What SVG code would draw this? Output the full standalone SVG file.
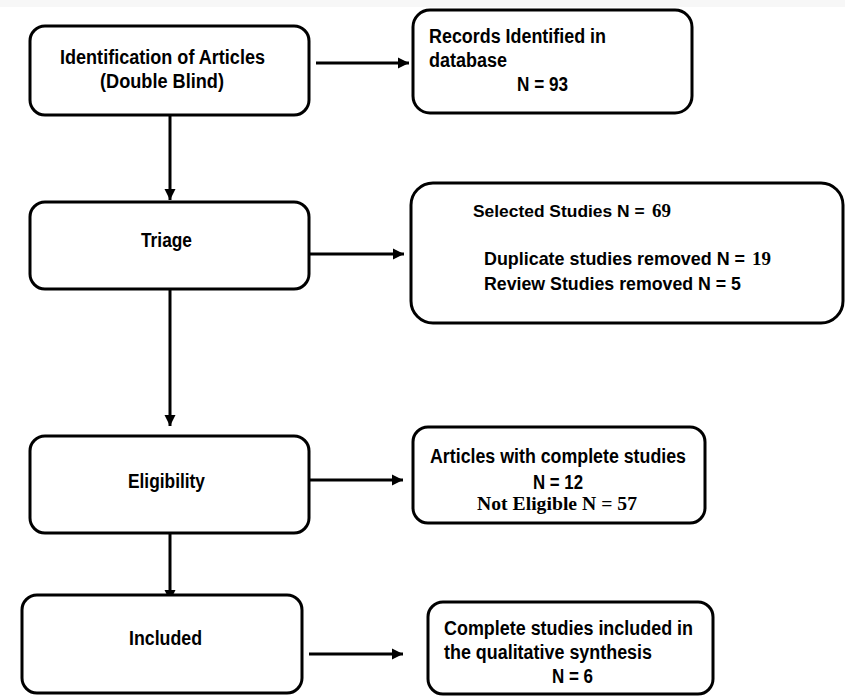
<svg xmlns="http://www.w3.org/2000/svg" width="845" height="696" viewBox="0 0 845 696">
<defs>
<style>
.box{fill:#fff;stroke:#000;stroke-width:3}
.t{font-family:"Liberation Sans",Arial,sans-serif;font-weight:bold;font-size:19.5px;fill:#000}
.s{font-family:"Liberation Serif","Times New Roman",serif;font-weight:bold;font-size:19px;fill:#000}
.c{fill:none;stroke:#000;stroke-width:3}
</style>
<marker id="ah" markerUnits="userSpaceOnUse" markerWidth="13" markerHeight="13" refX="11" refY="6.5" orient="auto">
<path d="M0,1 L11,6.5 L0,12 Z" fill="#000"/>
</marker>
</defs>
<rect x="0" y="0" width="845" height="696" fill="#fff"/>
<rect x="0" y="0" width="845" height="7" fill="#f7f7f7"/>

<g id="connectors">
<line class="c" x1="316" y1="63" x2="409" y2="63" marker-end="url(#ah)"/>
<line class="c" x1="170" y1="115" x2="170" y2="200" marker-end="url(#ah)"/>
<line class="c" x1="309" y1="254" x2="404" y2="254" marker-end="url(#ah)"/>
<line class="c" x1="170" y1="289" x2="170" y2="426" marker-end="url(#ah)"/>
<line class="c" x1="309" y1="480" x2="403" y2="480" marker-end="url(#ah)"/>
<line class="c" x1="170" y1="533" x2="170" y2="601" marker-end="url(#ah)"/>
<line class="c" x1="309" y1="654" x2="403" y2="654" marker-end="url(#ah)"/>
</g>

<g id="identification">
<rect class="box" x="30" y="26" width="279" height="89" rx="15"/>
<text class="t" x="60" y="64" textLength="205" lengthAdjust="spacingAndGlyphs">Identification of Articles</text>
<text class="t" x="100" y="88" textLength="124" lengthAdjust="spacingAndGlyphs">(Double Blind)</text>
</g>

<g id="records">
<rect class="box" x="413" y="10" width="279" height="103" rx="17"/>
<text class="t" x="429" y="43" textLength="177" lengthAdjust="spacingAndGlyphs">Records Identified in</text>
<text class="t" x="429" y="67" textLength="78" lengthAdjust="spacingAndGlyphs">database</text>
<text class="t" x="517" y="91" textLength="51" lengthAdjust="spacingAndGlyphs">N = 93</text>
</g>

<g id="triage">
<rect class="box" x="30" y="202" width="279" height="87" rx="15"/>
<text class="t" x="141" y="247" textLength="51" lengthAdjust="spacingAndGlyphs">Triage</text>
</g>

<g id="selected">
<rect class="box" x="411" y="183" width="432" height="140" rx="22"/>
<text class="t" x="473" y="217" style="font-size:17.4px">Selected Studies N =</text>
<text class="s" x="652" y="217">69</text>
<text class="t" x="484" y="265" style="font-size:17.9px">Duplicate studies removed N =</text>
<text class="s" x="752" y="265">19</text>
<text class="t" x="484" y="290" style="font-size:18px" textLength="257" lengthAdjust="spacingAndGlyphs">Review Studies removed N = 5</text>
</g>

<g id="eligibility">
<rect class="box" x="30" y="436" width="279" height="97" rx="15"/>
<text class="t" x="128" y="488" textLength="77" lengthAdjust="spacingAndGlyphs">Eligibility</text>
</g>

<g id="articles">
<rect class="box" x="413" y="427" width="292" height="96" rx="15"/>
<text class="t" x="430" y="463" textLength="256" lengthAdjust="spacingAndGlyphs">Articles with complete studies</text>
<text class="t" x="533" y="489" textLength="50" lengthAdjust="spacingAndGlyphs">N = 12</text>
<text class="s" x="477" y="510" textLength="160" lengthAdjust="spacingAndGlyphs">Not Eligible N = 57</text>
</g>

<g id="included">
<rect class="box" x="22" y="595" width="280" height="98" rx="15"/>
<text class="t" x="129" y="645" textLength="73" lengthAdjust="spacingAndGlyphs">Included</text>
</g>

<g id="complete">
<rect class="box" x="428" y="602" width="285" height="92" rx="15"/>
<text class="t" x="444" y="635" textLength="249" lengthAdjust="spacingAndGlyphs">Complete studies included in</text>
<text class="t" x="444" y="659" textLength="208" lengthAdjust="spacingAndGlyphs">the qualitative synthesis</text>
<text class="t" x="552" y="683" textLength="41" lengthAdjust="spacingAndGlyphs">N = 6</text>
</g>
</svg>
